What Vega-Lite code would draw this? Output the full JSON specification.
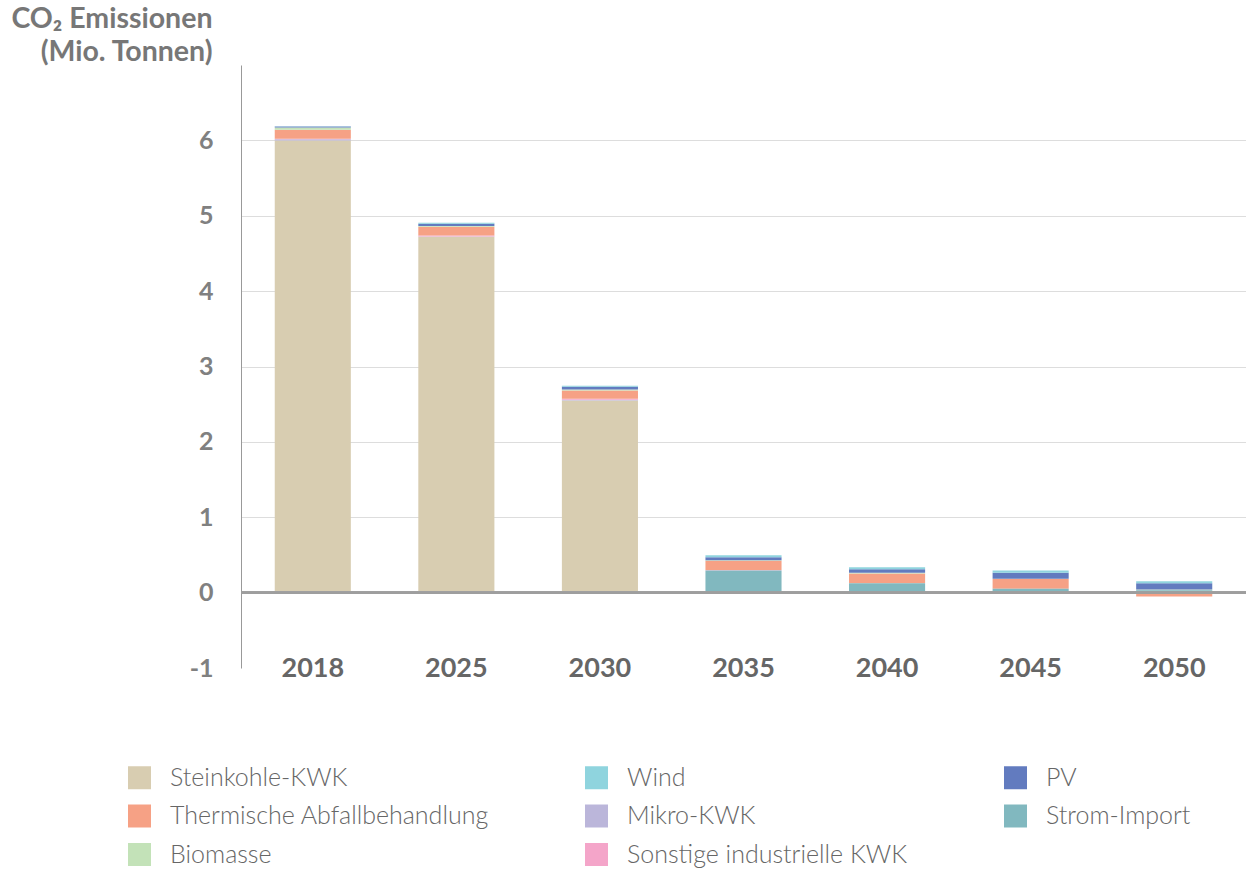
{
  "$schema": "https://vega.github.io/schema/vega-lite/v6.json",
  "width": 1005,
  "height": 603,
  "autosize": {"type": "none"},
  "padding": {"left": 241, "top": 65, "right": 0, "bottom": 202},
  "background": "white",
  "config": {
    "view": {"stroke": null},
    "font": "Lato"
  },
  "data": {
    "values": [
      {"year": "2018", "source": "Steinkohle-KWK", "value": 6.0},
      {"year": "2018", "source": "Mikro-KWK", "value": 0.015},
      {"year": "2018", "source": "Sonstige industrielle KWK", "value": 0.005},
      {"year": "2018", "source": "Thermische Abfallbehandlung", "value": 0.12},
      {"year": "2018", "source": "Biomasse", "value": 0.03},
      {"year": "2018", "source": "PV", "value": 0.013},
      {"year": "2018", "source": "Wind", "value": 0.005},
      {"year": "2018", "source": "Strom-Import", "value": 0},
      {"year": "2025", "source": "Steinkohle-KWK", "value": 4.72},
      {"year": "2025", "source": "Mikro-KWK", "value": 0.005},
      {"year": "2025", "source": "Sonstige industrielle KWK", "value": 0.013},
      {"year": "2025", "source": "Thermische Abfallbehandlung", "value": 0.115},
      {"year": "2025", "source": "Biomasse", "value": 0.01},
      {"year": "2025", "source": "PV", "value": 0.03},
      {"year": "2025", "source": "Wind", "value": 0.013},
      {"year": "2025", "source": "Strom-Import", "value": 0},
      {"year": "2030", "source": "Steinkohle-KWK", "value": 2.55},
      {"year": "2030", "source": "Mikro-KWK", "value": 0.01},
      {"year": "2030", "source": "Sonstige industrielle KWK", "value": 0.012},
      {"year": "2030", "source": "Thermische Abfallbehandlung", "value": 0.11},
      {"year": "2030", "source": "Biomasse", "value": 0.013},
      {"year": "2030", "source": "PV", "value": 0.035},
      {"year": "2030", "source": "Wind", "value": 0.013},
      {"year": "2030", "source": "Strom-Import", "value": 0},
      {"year": "2035", "source": "Steinkohle-KWK", "value": 0},
      {"year": "2035", "source": "Mikro-KWK", "value": 0},
      {"year": "2035", "source": "Sonstige industrielle KWK", "value": 0.006},
      {"year": "2035", "source": "Thermische Abfallbehandlung", "value": 0.123},
      {"year": "2035", "source": "Biomasse", "value": 0.005},
      {"year": "2035", "source": "PV", "value": 0.04},
      {"year": "2035", "source": "Wind", "value": 0.027},
      {"year": "2035", "source": "Strom-Import", "value": 0.295},
      {"year": "2040", "source": "Steinkohle-KWK", "value": 0},
      {"year": "2040", "source": "Mikro-KWK", "value": 0},
      {"year": "2040", "source": "Sonstige industrielle KWK", "value": 0},
      {"year": "2040", "source": "Thermische Abfallbehandlung", "value": 0.13},
      {"year": "2040", "source": "Biomasse", "value": 0.01},
      {"year": "2040", "source": "PV", "value": 0.044},
      {"year": "2040", "source": "Wind", "value": 0.027},
      {"year": "2040", "source": "Strom-Import", "value": 0.125},
      {"year": "2045", "source": "Steinkohle-KWK", "value": 0},
      {"year": "2045", "source": "Mikro-KWK", "value": 0},
      {"year": "2045", "source": "Sonstige industrielle KWK", "value": 0},
      {"year": "2045", "source": "Thermische Abfallbehandlung", "value": 0.13},
      {"year": "2045", "source": "Biomasse", "value": 0.005},
      {"year": "2045", "source": "PV", "value": 0.08},
      {"year": "2045", "source": "Wind", "value": 0.027},
      {"year": "2045", "source": "Strom-Import", "value": 0.05},
      {"year": "2050", "source": "Steinkohle-KWK", "value": 0},
      {"year": "2050", "source": "Mikro-KWK", "value": 0},
      {"year": "2050", "source": "Sonstige industrielle KWK", "value": 0},
      {"year": "2050", "source": "Thermische Abfallbehandlung", "value": -0.05},
      {"year": "2050", "source": "Biomasse", "value": 0.013},
      {"year": "2050", "source": "PV", "value": 0.08},
      {"year": "2050", "source": "Wind", "value": 0.027},
      {"year": "2050", "source": "Strom-Import", "value": 0.03}
    ]
  },
  "layer": [
    {
      "transform": [
        {"calculate": "indexof(['Strom-Import','Steinkohle-KWK','Mikro-KWK','Sonstige industrielle KWK','Thermische Abfallbehandlung','Biomasse','PV','Wind'], datum.source)", "as": "stackOrder"}
      ],
      "mark": {"type": "bar"},
      "encoding": {
        "x": {
          "field": "year",
          "type": "nominal",
          "scale": {"paddingInner": 0.47, "paddingOuter": 0.235},
          "axis": {
            "title": null,
            "labelAngle": 0,
            "domain": false,
            "ticks": false,
            "labelPadding": 0,
            "labelBaseline": "middle",
            "labelFontSize": 27,
            "labelFontWeight": "bold",
            "labelColor": "#666666"
          }
        },
        "y": {
          "field": "value",
          "type": "quantitative",
          "stack": "zero",
          "scale": {"domain": [-1, 7], "nice": false, "zero": false},
          "axis": {
            "values": [-1, 0, 1, 2, 3, 4, 5, 6],
            "labelExpr": "'' + datum.value",
            "title": ["CO₂ Emissionen", "(Mio. Tonnen)"],
            "titleAngle": 0,
            "titleAlign": "right",
            "titleBaseline": "top",
            "titleX": -29,
            "titleY": -61,
            "titleFontSize": 28.5,
            "titleFontWeight": "bold",
            "titleColor": "#777777",
            "titleLineHeight": 33,
            "domain": true,
            "domainColor": "#999999",
            "domainWidth": 1,
            "ticks": false,
            "labelPadding": 28,
            "labelFontSize": 25,
            "labelFontWeight": "bold",
            "labelColor": "#808080",
            "grid": true,
            "gridColor": {"condition": {"test": "datum.value <= 0", "value": "transparent"}, "value": "#dddddd"},
            "gridWidth": 1
          }
        },
        "color": {
          "field": "source",
          "type": "nominal",
          "scale": {
            "domain": ["Steinkohle-KWK", "Thermische Abfallbehandlung", "Biomasse", "Wind", "Mikro-KWK", "Sonstige industrielle KWK", "PV", "Strom-Import"],
            "range": ["#d8cdb1", "#f6a185", "#c3e2b8", "#8fd4de", "#bbb6da", "#f4a5c9", "#627bbf", "#81b8bf"]
          },
          "legend": {
            "title": null,
            "orient": "none",
            "legendX": -114,
            "legendY": 700,
            "columns": 3,
            "columnPadding": 95,
            "rowPadding": 12.5,
            "symbolType": "square",
            "symbolSize": 529,
            "symbolStrokeWidth": 0,
            "symbolOpacity": 1,
            "labelFontSize": 25,
            "labelFont": "Lato",
            "labelFontWeight": 300,
            "labelColor": "#666666",
            "labelOffset": 18,
            "labelLimit": 500
          }
        },
        "order": {"field": "stackOrder", "type": "quantitative"}
      }
    },
    {
      "mark": {"type": "rule", "color": "#9e9e9e", "strokeWidth": 2},
      "encoding": {"y": {"datum": 0}}
    }
  ]
}
